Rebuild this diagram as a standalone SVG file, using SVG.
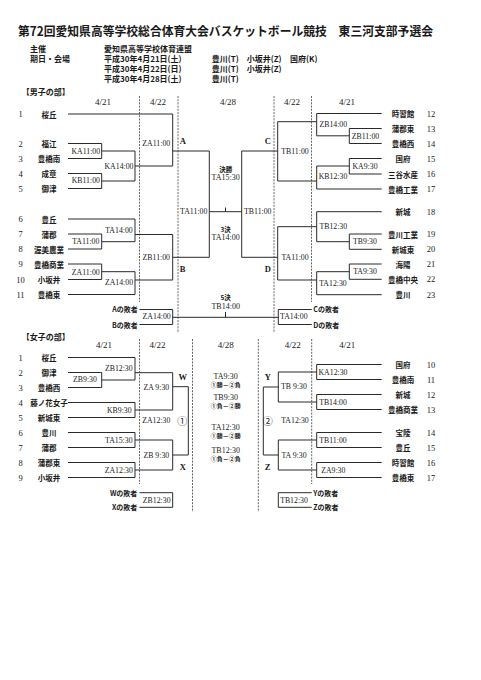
<svg xmlns="http://www.w3.org/2000/svg" width="481" height="680" viewBox="0 0 481 680">
<style>
text{dominant-baseline:central;fill:#1a1a1a}
.t{font-family:"Noto Sans CJK JP","Noto Sans",sans-serif;font-weight:bold;font-size:12.5px}
.h{font-family:"Noto Sans CJK JP",sans-serif;font-weight:bold;font-size:8px}
.n{font-family:"Noto Sans CJK JP",sans-serif;font-weight:bold;font-size:7.5px;text-anchor:middle}
.k{font-family:"Liberation Serif",serif;font-size:8.5px;text-anchor:middle}
.kk{font-family:"Liberation Serif",serif;font-size:8px;text-anchor:middle}
.m{font-family:"Liberation Serif",serif;font-size:7.8px;text-anchor:middle}
.d{font-family:"Liberation Serif",serif;font-size:9px;text-anchor:middle}
.l{font-family:"Liberation Serif",serif;font-weight:bold;font-size:8.5px;text-anchor:middle}
.j{font-family:"Noto Sans CJK JP",sans-serif;font-weight:bold;font-size:6.5px;text-anchor:middle}
.o{font-family:"Noto Sans CJK JP",sans-serif;font-size:10px;text-anchor:middle}
.s{font-family:"Noto Sans CJK JP",sans-serif;font-weight:bold;font-size:6px;text-anchor:middle}
.e{font-family:"Noto Sans CJK JP",sans-serif;font-weight:bold;font-size:7px}
.c{fill:none;stroke:#2a2a2a;stroke-width:1}
.ds{fill:none;stroke:#666;stroke-width:1;stroke-dasharray:2 1.2}
</style>

<g id="header">
<text class="t" x="18" y="30.5" textLength="415" lengthAdjust="spacingAndGlyphs">第72回愛知県高等学校総合体育大会バスケットボール競技　東三河支部予選会</text>
<text class="h" x="30" y="48.8">主催</text>
<text class="h" x="104" y="48.8">愛知県高等学校体育連盟</text>
<text class="h" x="30" y="58.6">期日・会場</text>
<text class="h" x="104" y="58.6">平成30年4月21日(土)</text>
<text class="h" x="211.7" y="58.6">豊川(T)</text>
<text class="h" x="246.7" y="58.6">小坂井(Z)</text>
<text class="h" x="290" y="58.6">国府(K)</text>
<text class="h" x="104" y="68.4">平成30年4月22日(日)</text>
<text class="h" x="211.7" y="68.4">豊川(T)</text>
<text class="h" x="246.7" y="68.4">小坂井(Z)</text>
<text class="h" x="104" y="78">平成30年4月28日(土)</text>
<text class="h" x="211.7" y="78">豊川(T)</text>
<text class="h" x="21.7" y="91.7">【男子の部】</text>
<text class="h" x="21.7" y="336">【女子の部】</text>
</g>

<g id="dates">
<text class="d" x="103" y="101.7">4/21</text>
<text class="d" x="158" y="101.7">4/22</text>
<text class="d" x="228" y="101.7">4/28</text>
<text class="d" x="292" y="101.7">4/22</text>
<text class="d" x="347" y="101.7">4/21</text>
<text class="d" x="104" y="344.5">4/21</text>
<text class="d" x="157.5" y="344.5">4/22</text>
<text class="d" x="225.7" y="344.5">4/28</text>
<text class="d" x="292.8" y="344.5">4/22</text>
<text class="d" x="347.3" y="344.5">4/21</text>
</g>

<g id="connectors">
<path class="ds" d="M139.5,96V302M178,96V333M274,96V333M311.5,96V302"/>
<path class="ds" d="M139.5,339V484M192.5,339V512M258.3,339V512M311.7,339V484"/>
<path class="c" d="M68,114H172.7V166M135,166H172.7M172.7,151H209.3
M68,143.5H101.7V158.5H68M101.7,151H135
M68,173.5H101.7V188.5H68M101.7,181H135M135,151V181
M68,219H135V241.7M68,234H101.7V249H68M101.7,241.7H135M135,234.5H172.7
M68,264H101.7V279.5H68M101.7,271.7H135M68,294.5H135V271.7M135,280H172.7
M172.7,234.5V280M172.7,257.3H209.3"/>
<path class="c" d="M209.3,151V257.3M209.3,211.7H241.7M225.5,207.5V211.7M241.7,151V257.3M241.7,151H277.7M241.7,257.3H277.7
M277.7,121.7V181M277.7,226.7V280"/>
<path class="c" d="M277.7,121.7H316.7M381.7,113.5H316.7V135.8H349.3M381.7,128.5H349.3V143.5H381.7
M277.7,181H316.7M316.7,166H349.3M381.7,158.5H349.3V174H381.7M316.7,166V189H381.7
M277.7,226.7H316.7M381.7,211.7H316.7V241.7H349.3M381.7,234H349.3V249.3H381.7
M277.7,280H316.7M316.7,271.7H349.3M381.7,264H349.3V279.3H381.7M316.7,271.7V294.7H381.7"/>
<path class="c" d="M139.5,309.5H172.7V324.5H139.5M172.7,317.3H278.3M225.5,312V317.3M311.7,309.5H278.3V324.5H311.7"/>
<path class="c" d="M68,357.5H135V380M68,372.5H101.7V387.5H68M101.7,380H135M135,372.7H172.7
M68,402.5H135V417.5H68M135,410H172.7M172.7,372.7V410M172.7,386.7H188.3
M68,432.5H135V447.5H68M135,440H172.7M68,462.5H135V477.5H68M135,470H172.7
M172.7,440V470M172.7,455H188.3M188.3,386.7V455"/>
<path class="c" d="M381.7,364.5H316.7V379.5H381.7M278.3,372H316.7
M381.7,394.5H316.7V409.5H381.7M278.3,402H316.7M278.3,372V402M263.3,387H278.3
M381.7,432.5H316.7V447.5H381.7M278.3,440H316.7M381.7,462.5H316.7V477.5H381.7M278.3,470H316.7
M278.3,440V470M263.3,455H278.3M263.3,387V455"/>
<path class="c" d="M139.5,492.7H172.7V507.3H139.5M311.7,492.7H278.3V507.3H311.7"/>
</g>

<g id="m1"><text class="k" x="20.5" y="114">1</text><text class="n" x="49" y="114">桜丘</text></g>
<g id="m2"><text class="k" x="20.5" y="143.5">2</text><text class="n" x="49" y="143.5">福江</text></g>
<g id="m3"><text class="k" x="20.5" y="158.5">3</text><text class="n" x="49" y="158.5">豊橋南</text></g>
<g id="m4"><text class="k" x="20.5" y="173.5">4</text><text class="n" x="49" y="173.5">成章</text></g>
<g id="m5"><text class="k" x="20.5" y="188.5">5</text><text class="n" x="49" y="188.5">御津</text></g>
<g id="m6"><text class="k" x="20.5" y="219">6</text><text class="n" x="49" y="219">豊丘</text></g>
<g id="m7"><text class="k" x="20.5" y="234">7</text><text class="n" x="49" y="234">蒲郡</text></g>
<g id="m8"><text class="k" x="20.5" y="249">8</text><text class="n" x="49" y="249">渥美農業</text></g>
<g id="m9"><text class="k" x="20.5" y="264">9</text><text class="n" x="49" y="264">豊橋商業</text></g>
<g id="m10"><text class="k" x="20.5" y="279.5">10</text><text class="n" x="49" y="279.5">小坂井</text></g>
<g id="m11"><text class="k" x="20.5" y="294.5">11</text><text class="n" x="49" y="294.5">豊橋東</text></g>
<g id="m12"><text class="n" x="403" y="113.5">時習館</text><text class="k" x="431" y="113.5">12</text></g>
<g id="m13"><text class="n" x="403" y="128.5">蒲郡東</text><text class="k" x="431" y="128.5">13</text></g>
<g id="m14"><text class="n" x="403" y="143.5">豊橋西</text><text class="k" x="431" y="143.5">14</text></g>
<g id="m15"><text class="n" x="403" y="158.5">国府</text><text class="k" x="431" y="158.5">15</text></g>
<g id="m16"><text class="n" x="403" y="174">三谷水産</text><text class="k" x="431" y="174">16</text></g>
<g id="m17"><text class="n" x="403" y="189">豊橋工業</text><text class="k" x="431" y="189">17</text></g>
<g id="m18"><text class="n" x="403" y="211.7">新城</text><text class="k" x="431" y="211.7">18</text></g>
<g id="m19"><text class="n" x="403" y="234">豊川工業</text><text class="k" x="431" y="234">19</text></g>
<g id="m20"><text class="n" x="403" y="249.3">新城東</text><text class="k" x="431" y="249.3">20</text></g>
<g id="m21"><text class="n" x="403" y="264">海陽</text><text class="k" x="431" y="264">21</text></g>
<g id="m22"><text class="n" x="403" y="279.3">豊橋中央</text><text class="k" x="431" y="279.3">22</text></g>
<g id="m23"><text class="n" x="403" y="294.7">豊川</text><text class="k" x="431" y="294.7">23</text></g>

<g id="mg-ka1100"><text class="m" x="85.8" y="151">KA11:00</text></g>
<g id="mg-kb1100"><text class="m" x="85.8" y="180.7">KB11:00</text></g>
<g id="mg-ka1400"><text class="m" x="119" y="166">KA14:00</text></g>
<g id="mg-ta1100a"><text class="m" x="85.8" y="241.7">TA11:00</text></g>
<g id="mg-ta1400"><text class="m" x="119" y="230">TA14:00</text></g>
<g id="mg-za1100a"><text class="m" x="85.8" y="272.3">ZA11:00</text></g>
<g id="mg-za1400"><text class="m" x="119" y="282.7">ZA14:00</text></g>
<g id="mg-za1100"><text class="m" x="156.3" y="143.3">ZA11:00</text><text class="l" x="182.7" y="140.5">A</text></g>
<g id="mg-zb1100"><text class="m" x="156.3" y="257">ZB11:00</text><text class="l" x="182.7" y="269.3">B</text></g>
<g id="mg-ta1100"><text class="m" x="193.7" y="211.7">TA11:00</text></g>
<g id="mg-tb1100"><text class="m" x="257.8" y="211.7">TB11:00</text></g>
<g id="mg-final"><text class="j" x="225.7" y="169.3">決勝</text><text class="kk" x="225.7" y="177.8">TA15:30</text></g>
<g id="mg-third"><text class="j" x="225.7" y="229.3">3決</text><text class="kk" x="225.7" y="237.8">TA14:00</text></g>
<g id="mg-fifth"><text class="j" x="225.7" y="296.8">5決</text><text class="kk" x="225.7" y="306">TB14:00</text></g>
<g id="mg-tb1100c"><text class="m" x="295" y="151">TB11:00</text><text class="l" x="267.7" y="140.5">C</text></g>
<g id="mg-ta1100d"><text class="m" x="295" y="257.3">TA11:00</text><text class="l" x="267.7" y="269.3">D</text></g>
<g id="mg-zb1400"><text class="m" x="333.3" y="124.3">ZB14:00</text></g>
<g id="mg-zb1100r"><text class="m" x="365.5" y="136">ZB11:00</text></g>
<g id="mg-ka930"><text class="m" x="365" y="166">KA9:30</text></g>
<g id="mg-kb1230"><text class="m" x="333" y="176.7">KB12:30</text></g>
<g id="mg-tb1230"><text class="m" x="333.3" y="226.7">TB12:30</text></g>
<g id="mg-tb930"><text class="m" x="365" y="241.7">TB9:30</text></g>
<g id="mg-ta930"><text class="m" x="365" y="271.7">TA9:30</text></g>
<g id="mg-ta1230"><text class="m" x="333" y="283.3">TA12:30</text></g>
<g id="mg-los-ab"><text class="e" x="137.7" y="309" text-anchor="end">Aの敗者</text><text class="e" x="137.7" y="324.5" text-anchor="end">Bの敗者</text><text class="m" x="156.7" y="316.7">ZA14:00</text></g>
<g id="mg-los-cd"><text class="e" x="313.3" y="309">Cの敗者</text><text class="e" x="313.3" y="324.5">Dの敗者</text><text class="m" x="293.8" y="316.7">TA14:00</text></g>

<g id="w1"><text class="k" x="20.5" y="357.5">1</text><text class="n" x="49" y="357.5">桜丘</text></g>
<g id="w2"><text class="k" x="20.5" y="372.5">2</text><text class="n" x="49" y="372.5">御津</text></g>
<g id="w3"><text class="k" x="20.5" y="387.5">3</text><text class="n" x="49" y="387.5">豊橋西</text></g>
<g id="w4"><text class="k" x="20.5" y="402.5">4</text><text class="n" x="49" y="402.5">藤ノ花女子</text></g>
<g id="w5"><text class="k" x="20.5" y="417.5">5</text><text class="n" x="49" y="417.5">新城東</text></g>
<g id="w6"><text class="k" x="20.5" y="432.5">6</text><text class="n" x="49" y="432.5">豊川</text></g>
<g id="w7"><text class="k" x="20.5" y="447.5">7</text><text class="n" x="49" y="447.5">蒲郡</text></g>
<g id="w8"><text class="k" x="20.5" y="462.5">8</text><text class="n" x="49" y="462.5">蒲郡東</text></g>
<g id="w9"><text class="k" x="20.5" y="477.5">9</text><text class="n" x="49" y="477.5">小坂井</text></g>
<g id="w10"><text class="n" x="403" y="364.5">国府</text><text class="k" x="431" y="364.5">10</text></g>
<g id="w11"><text class="n" x="403" y="379.5">豊橋南</text><text class="k" x="431" y="379.5">11</text></g>
<g id="w12"><text class="n" x="403" y="394.5">新城</text><text class="k" x="431" y="394.5">12</text></g>
<g id="w13"><text class="n" x="403" y="409.5">豊橋商業</text><text class="k" x="431" y="409.5">13</text></g>
<g id="w14"><text class="n" x="403" y="432.5">宝陵</text><text class="k" x="431" y="432.5">14</text></g>
<g id="w15"><text class="n" x="403" y="447.5">豊丘</text><text class="k" x="431" y="447.5">15</text></g>
<g id="w16"><text class="n" x="403" y="462.5">時習館</text><text class="k" x="431" y="462.5">16</text></g>
<g id="w17"><text class="n" x="403" y="477.5">豊橋東</text><text class="k" x="431" y="477.5">17</text></g>

<g id="wg-zb1230"><text class="m" x="118.8" y="368.3">ZB12:30</text></g>
<g id="wg-zb930"><text class="m" x="85" y="379.8">ZB9:30</text></g>
<g id="wg-kb930"><text class="m" x="119.3" y="410">KB9:30</text></g>
<g id="wg-ta1530"><text class="m" x="118.8" y="440.7">TA15:30</text></g>
<g id="wg-za1230a"><text class="m" x="118.8" y="470">ZA12:30</text></g>
<g id="wg-za930"><text class="m" x="156.3" y="387.3">ZA 9:30</text><text class="l" x="182.7" y="376.7">W</text></g>
<g id="wg-za1230"><text class="m" x="156.3" y="420.7">ZA12:30</text><text class="o" x="182.3" y="420.5">①</text></g>
<g id="wg-zb930b"><text class="m" x="156.3" y="455">ZB 9:30</text><text class="l" x="182.7" y="466.7">X</text></g>
<g id="wg-r1"><text class="kk" x="225.7" y="376">TA9:30</text><text class="s" x="225.7" y="384">①勝－②負</text></g>
<g id="wg-r2"><text class="kk" x="225.7" y="397.8">TB9:30</text><text class="s" x="225.7" y="405.8">①負－②勝</text></g>
<g id="wg-r3"><text class="kk" x="225.7" y="427.8">TA12:30</text><text class="s" x="225.7" y="435.8">①勝－②勝</text></g>
<g id="wg-r4"><text class="kk" x="225.7" y="450.2">TB12:30</text><text class="s" x="225.7" y="458.2">①負－②負</text></g>
<g id="wg-tb930"><text class="m" x="294" y="386.7">TB 9:30</text><text class="l" x="267.7" y="376.7">Y</text></g>
<g id="wg-ta1230"><text class="o" x="267.7" y="420.7">②</text><text class="m" x="295" y="420.7">TA12:30</text></g>
<g id="wg-ta930"><text class="m" x="294" y="455">TA 9:30</text><text class="l" x="267.7" y="466.7">Z</text></g>
<g id="wg-ka1230"><text class="m" x="333" y="372.3">KA12:30</text></g>
<g id="wg-tb1400"><text class="m" x="333" y="402.7">TB14:00</text></g>
<g id="wg-tb1100"><text class="m" x="333" y="440">TB11:00</text></g>
<g id="wg-za930r"><text class="m" x="333.3" y="470">ZA9:30</text></g>
<g id="wg-los-wx"><text class="e" x="137.3" y="492.7" text-anchor="end">Wの敗者</text><text class="e" x="137.3" y="507.3" text-anchor="end">Xの敗者</text><text class="m" x="156.7" y="500.7">ZB12:30</text></g>
<g id="wg-los-yz"><text class="e" x="313.3" y="492.7">Yの敗者</text><text class="e" x="313.3" y="507.3">Zの敗者</text><text class="m" x="294" y="500.7">TB12:30</text></g>
</svg>
